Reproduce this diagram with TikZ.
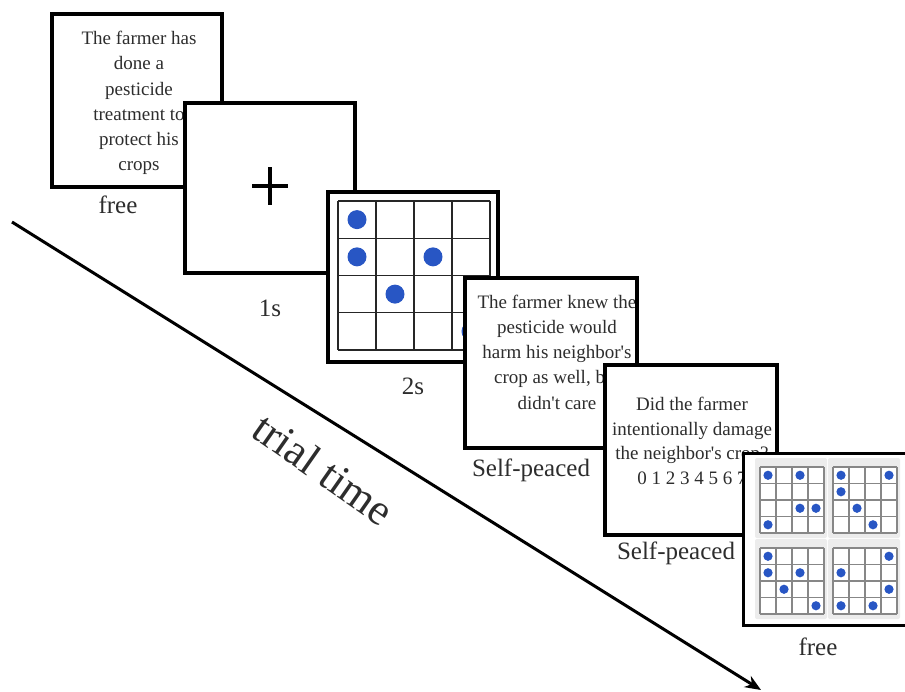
\documentclass[tikz,border=0pt]{standalone}
\usepackage{fontspec}
\setmainfont{Liberation Serif}
\usetikzlibrary{arrows.meta}
\definecolor{dotblue}{RGB}{40,86,196}
\definecolor{txtgray}{RGB}{45,45,45}
\definecolor{boxgray}{RGB}{236,236,236}
\definecolor{sgrid}{RGB}{135,135,135}
\newcommand\mysmallgrid[3]{%
  \fill[boxgray, rounded corners=2pt] ({#1-5},{#2-9}) rectangle ({#1+67},{#2+71});
  \fill[white] (#1,#2) rectangle ({#1+64},{#2+66});
  \foreach \i in {0,...,4}{%
    \draw[sgl] ({#1+16*\i},#2) -- ({#1+16*\i},{#2+66});
    \draw[sgl] (#1,{#2+16.5*\i}) -- ({#1+64},{#2+16.5*\i});
  }
  \foreach \c/\r in {#3}{%
    \fill[dotblue] ({#1+16*\c+8},{#2+16.5*\r+8.25}) circle[radius=4.6];
  }
}
\begin{document}
\begin{tikzpicture}[x=1pt,y=-1pt,
  panel/.style={draw=black, line width=3.5pt},
  ptext/.style={text=txtgray, font=\fontsize{19}{25.2}\selectfont, align=center, inner sep=0pt},
  lab/.style={text=txtgray, font=\fontsize{25}{30}\selectfont, inner sep=0pt},
  gl/.style={draw=black!85, line width=1.4pt},
  sgl/.style={draw=sgrid, line width=1.1pt},
]
\useasboundingbox (0,0) rectangle (905,691);

% time arrow
\coordinate (as) at (12,222);
\coordinate (ae) at (761,690);
\draw[line width=3pt, -{Stealth[length=16pt,width=13pt]}] (as) -- (ae);
\node[lab, font=\fontsize{44}{50}\selectfont, rotate=-35] (tt) at (324,469) {trial time};

% panel 1
\fill[white] (52,14) rectangle (222,187);
\node[ptext] (t1) at (139,103) {The farmer has\\done a\\pesticide\\treatment to\\protect his\\crops};
\draw[panel] (52,14) rectangle (222,187);
\node[lab] (l1) at (118,205) {free};

% panel 2
\fill[white] (185,103) rectangle (355,273);
\draw[panel] (185,103) rectangle (355,273);
\node[inner sep=0pt] (fix) at (270,186) {};
\draw[line width=4.5pt] (252,186) -- (288,186);
\draw[line width=4.5pt] (270,167) -- (270,205);
\node[lab] (l2) at (270,308) {1s};

% panel 3
\fill[white] (328,192) rectangle (498,362);
\foreach \i in {0,...,4}{%
  \draw[gl] ({338+38*\i},201) -- ({338+38*\i},350);
  \draw[gl] (338,{201+37.25*\i}) -- (490,{201+37.25*\i});
}
\foreach \c/\r in {0/0,0/1,2/1,1/2,3/3}{%
  \fill[dotblue] ({338+38*\c+19},{201+37.25*\r+18.6}) circle[radius=9.5];
}
\draw[panel] (328,192) rectangle (498,362);
\node[lab] (l3) at (413,386) {2s};

% panel 4
\fill[white] (465,278) rectangle (637,448);
\begin{scope}
  \clip (465,278) rectangle (637,448);
  \node[ptext] (t4) at (557,352) {The farmer knew the\\pesticide would\\harm his neighbor\textquotesingle s\\crop as well, but\\didn\textquotesingle t care};
\end{scope}
\draw[panel] (465,278) rectangle (637,448);
\node[lab] (l4) at (531,470) {Self-peaced};

% panel 5
\fill[white] (605,365) rectangle (777,535);
\begin{scope}
  \clip (605,365) rectangle (777,535);
  \node[ptext, font=\fontsize{19}{24.7}\selectfont] (t5) at (692,441) {Did the farmer\\intentionally damage\\the neighbor\textquotesingle s crop?\\0 1 2 3 4 5 6 7};
\end{scope}
\draw[panel] (605,365) rectangle (777,535);
\node[lab] (l5) at (676,553) {Self-peaced};

% panel 6
\fill[white] (743,453) rectangle (912,625);
\mysmallgrid{760}{467}{0/0,2/0,2/2,3/2,0/3}
\mysmallgrid{833}{467}{0/0,3/0,0/1,1/2,2/3}
\mysmallgrid{760}{548}{0/0,0/1,2/1,1/2,3/3}
\mysmallgrid{833}{548}{3/0,0/1,3/2,0/3,2/3}
\draw[panel, line width=3pt] (743,453) rectangle (912,625);
\node[lab] (l6) at (818,647) {free};
\end{tikzpicture}
\end{document}
